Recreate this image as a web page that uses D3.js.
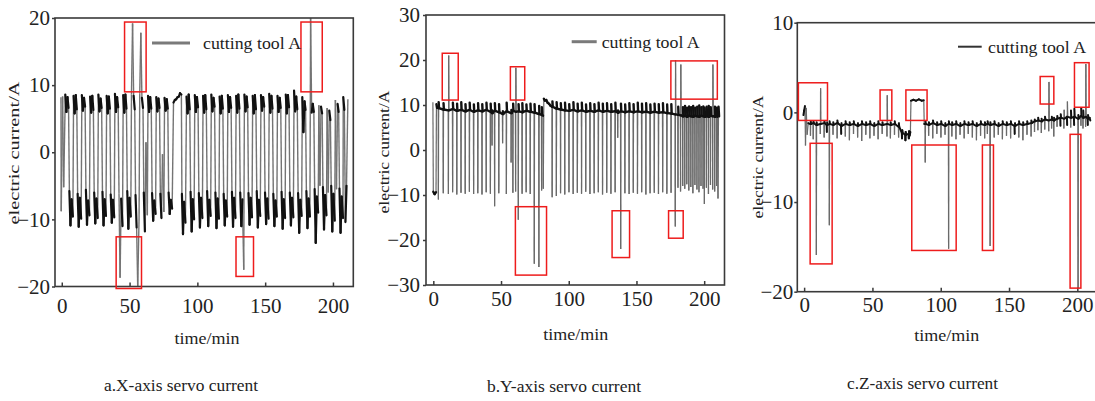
<!DOCTYPE html>
<html><head><meta charset="utf-8">
<script src="https://cdn.jsdelivr.net/npm/d3@7"></script>
<style>
body{margin:0;background:#fff;}
</style></head><body>
<svg id="chart" width="1095" height="401"></svg>
<script>
// ---------- shared labels / ticks ----------
const timeTicks = [0, 50, 100, 150, 200];
const yTicksX = [-20, -10, 0, 10, 20];
const yTicksY = [-30, -20, -10, 0, 10, 20, 30];
const yTicksZ = [-20, -10, 0, 10];
const captions = ["a.X-axis servo current", "b.Y-axis servo current", "c.Z-axis servo current"];
const legendLabel = "cutting tool A";
const xAxisTitle = "time/min";
const yAxisTitle = "electric current/A";

// ---------- X-axis servo current (cycle table: start time + 8 readings per cycle) ----------
const xCyclePhase = [0, 0.8, 1.6, 2.4, 3.0, 3.8, 4.6, 5.6];
const xCycleStart = [2.6, 8.7, 14.8, 20.9, 27.0, 33.1, 39.2, 45.3, 51.4, 57.5, 63.6, 69.7, 75.8,
  92.0, 98.1, 104.2, 110.3, 116.4, 122.5, 128.6, 134.7, 140.8, 146.9, 153.0, 159.1, 165.2, 171.3, 177.4, 183.5, 189.6, 195.7, 201.8];
const xCycleValues = [
  [8.6, 6.0, 8.2, 6.6, -5.8, -10.9, -7.0, -9.6],
  [8.4, 5.8, 8.5, 6.4, -6.2, -11.1, -6.8, -9.9],
  [8.5, 6.2, 8.1, 6.8, -5.6, -10.8, -7.2, -9.4],
  [8.3, 5.9, 8.4, 6.3, -6.0, -10.6, -6.9, -9.8],
  [8.6, 6.1, 8.0, 6.6, -5.9, -10.9, -7.0, -9.5],
  [8.4, 5.8, 8.3, 6.5, -6.3, -10.5, -7.1, -9.7],
  [8.7, 6.0, 8.2, 6.7, -6.1, -18.7, -6.9, -11.0],
  [8.5, 5.9, 8.6, 6.5, -5.8, -11.4, -6.8, -9.6],
  [8.6, 19.2, 8.4, 6.4, -6.4, -11.2, -20.0, -9.8],
  [8.8, 17.8, 8.1, 6.6, -6.0, -11.8, 1.5, -9.4],
  [8.4, 6.0, 8.2, 6.5, -6.1, -10.2, -7.2, -9.2],
  [8.2, 6.1, 8.0, 6.6, -6.2, -9.8, -0.3, -8.9],
  [8.1, 6.2, 7.9, 6.5, -6.0, -9.2, -7.1, -8.4],
  [8.3, 5.8, 8.6, 6.4, -5.9, -11.8, -7.0, -10.0],
  [8.5, 6.0, 8.2, 6.7, -6.1, -11.2, -6.8, -9.8],
  [8.4, 5.9, 8.5, 6.4, -5.8, -11.0, -7.1, -9.5],
  [8.6, 6.1, 8.1, 6.8, -6.0, -11.3, -6.9, -9.9],
  [8.3, 5.8, 8.4, 6.5, -6.2, -10.9, -7.2, -9.6],
  [8.5, 6.0, 8.2, 6.6, -5.9, -11.1, -6.8, -9.8],
  [8.4, 5.9, 8.6, 6.5, -6.0, -11.0, -7.0, -17.5],
  [8.6, 6.1, 8.3, 6.7, -6.1, -10.8, -6.8, -9.7],
  [8.4, 5.8, 8.5, 6.4, -5.8, -11.2, -7.1, -9.5],
  [8.5, 6.2, 8.2, 6.8, -6.0, -10.7, -6.9, -9.9],
  [8.7, 5.9, 8.4, 6.5, -6.2, -11.0, -7.2, -9.6],
  [8.4, 6.0, 8.1, 6.6, -5.9, -11.4, -7.0, -9.8],
  [8.6, 5.8, 8.5, 6.7, -6.0, -10.9, -6.8, -9.7],
  [9.2, 6.1, 8.3, 6.4, -6.1, -12.0, -7.1, -9.5],
  [8.2, 3.0, 7.6, 6.3, -5.8, -11.3, -6.9, -9.6],
  [20.0, 5.9, 7.2, 6.0, -5.5, -13.5, -6.6, -9.0],
  [7.0, -5.0, 6.8, 5.8, -5.2, -11.5, -6.4, -9.4],
  [6.6, -6.0, 6.2, 4.8, -5.0, -11.8, -6.2, -10.2],
  [7.8, -5.5, 7.2, 6.0, -5.4, -12.0, -6.6, -9.8]
];
const xExtraPoints = [
  [-0.6, 8.2], [-0.4, -8.8], [0.6, 8.3], [1.4, -5.2],
  [82.4, 7.4], [83.4, 7.8], [84.4, 7.9], [85.4, 8.2], [86.4, 8.3], [87.2, 8.8], [88.2, 8.6],
  [88.6, -6.2], [89.4, -12.2], [90.2, -7.4], [91.2, -10.5],
  [207.6, 8.2], [208.4, 6.3], [209.2, -10.4], [210.0, -5.0], [211.0, 7.9]
];
const xBoxes = [[46.3, 62.2, 9.0, 19.4], [176.4, 192.1, 9.0, 19.4], [40.1, 58.8, -20.3, -12.6], [128.5, 141.4, -18.5, -12.6]];

// ---------- Y-axis servo current (events: time, base level, spike low, spike high) ----------
const spikePhase = [0, 0.15, 0.35, 0.6];
const yEvents = [
  [3.6, 9.3, -11.0, 10.6], [7.2, 9.0, -9.6, 10.4], [11.0, 8.8, -9.8, 21.0], [14.1, 9.1, -9.4, 10.5],
  [17.2, 8.7, -9.9, 10.3], [20.3, 8.9, -9.5, 10.6], [23.4, 8.6, -9.7, 10.2], [26.5, 8.9, -9.3, 10.5],
  [29.6, 8.5, -9.8, 10.1], [32.7, 8.8, -9.6, 10.4], [35.8, 8.6, -9.9, 10.2], [38.9, 8.9, -9.4, 10.5],
  [42.0, 8.5, -9.7, 10.3], [43.2, 8.2, 1.0, 8.8], [45.1, 8.7, -12.5, 10.4], [48.2, 8.4, -9.6, 10.2],
  [51.0, 8.0, 1.5, 8.6], [53.8, 8.6, -9.8, 10.5], [57.3, 8.2, -2.8, 8.9], [58.6, 8.7, -9.5, 10.3],
  [60.6, 8.5, -9.2, 18.3], [62.6, 8.6, -15.5, 10.2], [65.4, 8.4, -9.7, 10.4], [68.4, 8.7, -9.4, 10.1],
  [71.4, 8.5, -9.8, 10.3], [74.4, 8.3, -25.3, 10.2], [77.8, 8.0, -26.0, 9.8], [79.8, 7.8, -9.0, 9.5],
  [87.6, 9.6, -10.5, 10.8], [90.7, 9.2, -10.2, 10.6], [93.8, 9.0, -9.6, 10.4], [96.9, 8.8, -9.9, 10.5],
  [100.0, 8.7, -9.4, 10.2], [103.1, 8.9, -9.8, 10.6], [106.2, 8.6, -9.5, 10.3], [109.3, 8.8, -9.7, 10.5],
  [112.4, 8.5, -9.3, 10.1], [115.5, 8.7, -9.8, 10.4], [118.6, 8.5, -9.6, 10.2], [121.7, 8.8, -9.4, 10.5],
  [124.8, 8.5, -9.9, 10.3], [127.9, 8.7, -9.5, 10.4], [131.0, 8.5, -9.7, 10.2], [134.1, 8.6, -9.4, 10.5],
  [136.0, 8.3, 2.7, 8.8], [138.2, 8.6, -22.0, 10.3], [141.3, 8.4, -9.6, 10.1], [144.4, 8.6, -9.8, 10.4],
  [147.5, 8.4, -9.5, 10.2], [150.6, 8.6, -9.7, 10.5], [153.7, 8.4, -9.4, 10.3], [156.8, 8.5, -9.9, 10.4],
  [159.9, 8.3, -9.6, 10.1], [163.0, 8.5, -9.5, 10.3], [166.1, 8.3, -9.8, 10.2], [169.2, 8.4, -9.4, 10.4],
  [172.3, 8.2, -9.7, 10.1], [175.4, 8.1, -9.5, 10.2], [178.5, 7.9, -17.0, 20.0], [180.5, 7.8, -8.4, 9.6],
  [182.4, 7.7, -9.2, 19.0], [184.0, 7.5, -8.0, 9.5], [185.5, 7.6, -8.6, 9.8], [187.0, 7.4, -7.6, 9.4],
  [188.5, 7.6, -9.0, 9.7], [190.0, 7.5, -8.2, 9.5], [191.5, 7.4, -9.6, 9.8], [193.0, 7.6, -7.8, 9.4],
  [194.5, 7.5, -8.8, 9.6], [196.0, 7.4, -9.4, 9.9], [197.5, 7.6, -8.0, 9.5], [199.0, 7.5, -8.6, 9.7],
  [200.0, 7.4, -12.0, 9.4], [201.5, 7.5, -8.4, 9.6], [203.0, 7.4, -9.8, 9.8], [204.5, 7.6, -7.8, 9.5],
  [206.1, 7.5, -8.8, 19.0], [207.6, 7.4, -9.2, 9.6], [209.0, 7.5, -8.0, 9.4]
];
const yExtraPoints = [
  [-0.3, 10.6], [0.0, -9.3], [1.0, -9.8], [2.0, -9.4], [2.3, 10.2], [2.8, 9.4],
  [81.0, 7.6], [81.2, -8.6], [81.6, 11.4], [82.4, 11.0], [83.4, 11.1], [84.4, 10.5], [85.4, 10.3], [86.4, 9.9],
  [209.8, 7.4], [210.2, -10.8], [210.6, 9.6], [211.0, 7.5]
];
const yBoxes = [[6.6, 18.4, 11.1, 21.5], [56.9, 67.5, 11.1, 18.5], [175.4, 209.7, 11.3, 19.8],
  [60.6, 83.6, -27.8, -12.6], [132.0, 144.9, -23.9, -13.5], [173.7, 184.5, -19.6, -13.5]];

// ---------- Z-axis servo current ----------
const zEvents = [
  [4.5, -1.3, -2.6, -1.0], [6.5, -1.2, -3.0, -1.0], [8.8, -1.4, -15.9, -1.1], [11.7, -1.3, -2.4, 2.7],
  [14.5, -1.2, -2.8, -1.0], [16.5, -1.4, -2.2, -1.1], [18.3, -1.3, -12.6, -1.0], [21.0, -1.4, -2.5, -1.1],
  [24.0, -1.2, -2.9, -0.9], [27.0, -1.5, -2.4, -1.2], [30.0, -1.3, -2.7, -1.0], [33.0, -1.4, -3.1, -1.1],
  [36.0, -1.3, -2.4, -1.0], [39.0, -1.5, -2.8, -1.2], [42.0, -1.3, -3.2, -1.0], [45.0, -1.4, -2.5, -1.1],
  [48.0, -1.3, -2.9, -1.0], [51.0, -1.5, -2.6, -1.2], [54.0, -1.3, -3.0, -1.0], [57.0, -1.4, -2.4, -1.1],
  [60.5, -1.3, -2.7, 1.9], [63.0, -1.4, -2.9, -1.1], [66.0, -1.3, -2.5, -1.0], [69.0, -1.6, -2.8, -1.2],
  [71.5, -2.3, -2.9, -2.0], [74.0, -2.5, -3.1, -2.2], [76.5, -2.4, -2.9, -2.1],
  [88.5, -1.3, -5.6, -1.0], [91.0, -1.4, -2.6, -1.1], [94.0, -1.2, -2.9, -0.9], [97.0, -1.4, -2.4, -1.1],
  [100.0, -1.3, -2.8, -1.0], [103.0, -1.5, -2.5, -1.2], [105.6, -1.3, -15.2, -1.0], [108.0, -1.4, -2.7, -1.1],
  [111.0, -1.3, -3.0, -1.0], [114.0, -1.5, -2.5, -1.2], [117.0, -1.3, -2.9, -1.0], [120.0, -1.4, -2.4, -1.1],
  [123.0, -1.3, -2.8, -1.0], [126.0, -1.5, -3.1, -1.2], [129.0, -1.3, -2.6, -1.0], [132.0, -1.4, -2.9, -1.1],
  [134.0, -1.3, -2.4, -1.0], [136.0, -1.4, -14.9, -1.1], [139.0, -1.3, -2.8, -1.0], [142.0, -1.5, -2.5, -1.2],
  [145.0, -1.3, -3.0, -1.0], [148.0, -1.4, -2.6, -1.1], [151.0, -1.3, -2.9, -1.0], [154.0, -1.5, -2.4, -1.2],
  [157.0, -1.3, -2.8, -1.0], [160.0, -1.4, -3.1, -1.1], [163.0, -1.3, -2.5, -1.0], [166.0, -1.2, -2.7, -0.9],
  [168.5, -1.0, -2.2, -0.8], [171.0, -0.9, -2.0, -0.6], [173.5, -1.0, -2.3, -0.7], [176.0, -0.8, -1.9, -0.5],
  [178.9, -0.9, -2.1, 3.4], [181.0, -0.8, -1.8, -0.5], [182.6, -0.9, -2.7, -0.6], [185.0, -0.7, -1.6, -0.4],
  [187.5, -0.6, -1.5, -0.2], [190.0, -0.7, -1.8, 0.3], [192.4, -0.5, -1.4, 1.2], [195.0, -0.6, -1.7, 0.2],
  [197.5, -0.5, -1.4, 0.4], [200.4, -0.7, -19.6, -0.3], [202.5, -0.4, -1.5, 0.5], [204.0, -0.6, -1.8, 0.2],
  [205.9, -0.5, -1.6, 5.4], [207.5, -0.7, -1.4, -0.3]
];
const zExtraPoints = [
  [-0.5, -0.3], [0.0, 0.2], [0.6, 0.7], [1.0, -3.7], [1.5, 0.5], [2.2, -2.5], [3.0, -1.2],
  [77.2, -2.6], [77.8, -2.2], [78.2, 1.3], [80.0, 1.4], [82.0, 1.3], [84.0, 1.45], [86.0, 1.3], [87.6, 1.35], [87.9, -1.3],
  [209.0, -0.6], [209.5, -0.9]
];
const zBoxes = [[-4.2, 17.1, -0.9, 3.3], [4.4, 20.5, -16.9, -3.45], [55.6, 64.2, -0.9, 2.5], [74.5, 90.0, -0.9, 2.5],
  [78.8, 111.3, -15.4, -3.64], [130.5, 138.6, -15.4, -3.64], [172.8, 182.8, 0.93, 4.0], [197.9, 208.6, 0.57, 5.54],
  [194.7, 202.6, -19.6, -2.45]];

// ---------- build point tables ----------
const byTime = (a, b) => a[0] - b[0];
const xSeries = xExtraPoints.concat(
  xCycleStart.flatMap((t0, i) => xCyclePhase.map((p, j) => [t0 + p, xCycleValues[i][j]]))).sort(byTime);
const eventPoints = ev => ev.flatMap(([t, base, low, high]) =>
  [[t + spikePhase[0], base], [t + spikePhase[1], low], [t + spikePhase[2], high], [t + spikePhase[3], base]]);
const ySeries = yExtraPoints.concat(eventPoints(yEvents)).sort(byTime);
const zSeries = zExtraPoints.concat(eventPoints(zEvents)).sort(byTime);

// ---------- layout ----------
const SERIF = "'Liberation Serif','Times New Roman',serif";
const panels = [
  {id: "a", series: xSeries, boxes: xBoxes, yTicks: yTicksX, xDom: [-5, 215], yDom: [-20, 20],
   left: 55, right: 353.3, top: 18, bottom: 286.5, jump: 8, darkW: 2.2, grayW: 1.4, grayC: "#747474",
   xPad: 11.5, yPad: 2, legend: {x1: 152, x2: 190, y: 43, tx: 203, c: "#7a7a7a", w: 3},
   ylab: {x: 14, y: 153, len: 143}, xlab: {x: 207, y: 338}, cap: {x: 181, y: 385, len: 154}},
  {id: "b", series: ySeries, boxes: yBoxes, yTicks: yTicksY, xDom: [-5.4, 215], yDom: [-30, 30],
   left: 426, right: 724.5, top: 15, bottom: 285, jump: 3, darkW: 2.4, grayW: 1.2, grayC: "#6a6a6a",
   xPad: 5.7, yPad: 3, legend: {x1: 571.7, x2: 596.7, y: 41.7, tx: 601.7, c: "#7a7a7a", w: 3},
   ylab: {x: 383.5, y: 152, len: 123}, xlab: {x: 575.7, y: 334}, cap: {x: 564, y: 386, len: 154}},
  {id: "c", series: zSeries, boxes: zBoxes, yTicks: yTicksZ, xDom: [-5, 215], yDom: [-20, 10],
   left: 797.3, right: 797.3 + 220 * 1.366, top: 22.7, bottom: 291.7, jump: 0.9, darkW: 2.0, grayW: 1.2, grayC: "#6a6a6a",
   xPad: 5.7, yPad: 1, legend: {x1: 958, x2: 981.7, y: 46.7, tx: 988, c: "#333", w: 2},
   ylab: {x: 757.5, y: 157, len: 123}, xlab: {x: 946.7, y: 335.5}, cap: {x: 922.5, y: 383, len: 151}}
];

const svg = d3.select("#chart");
const fmt = d => d < 0 ? "\u2212" + Math.abs(d) : String(d);
const serifText = sel => sel.style("font-family", SERIF).style("fill", "#222");

panels.forEach((P, k) => {
  const x = d3.scaleLinear().domain(P.xDom).range([P.left, P.right]);
  const y = d3.scaleLinear().domain(P.yDom).range([P.bottom, P.top]);
  const g = svg.append("g");

  g.append("clipPath").attr("id", "clip" + P.id).append("rect")
    .attr("x", P.left).attr("y", P.top).attr("width", P.right - P.left).attr("height", P.bottom - P.top);

  // series drawn as segments: large swings in thin gray, steady levels in black
  const segs = d3.pairs(P.series);
  const plot = g.append("g").attr("clip-path", `url(#clip${P.id})`);
  plot.selectAll("line.sw").data(segs.filter(([a, b]) => Math.abs(b[1] - a[1]) > P.jump)).join("line")
    .attr("x1", d => x(d[0][0])).attr("y1", d => y(d[0][1])).attr("x2", d => x(d[1][0])).attr("y2", d => y(d[1][1]))
    .attr("stroke", P.grayC).attr("stroke-width", P.grayW);
  plot.selectAll("line.lv").data(segs.filter(([a, b]) => Math.abs(b[1] - a[1]) <= P.jump)).join("line")
    .attr("x1", d => x(d[0][0])).attr("y1", d => y(d[0][1])).attr("x2", d => x(d[1][0])).attr("y2", d => y(d[1][1]))
    .attr("stroke", "#111").attr("stroke-width", P.darkW).attr("stroke-linecap", "round");

  // frame
  g.append("rect").attr("x", P.left).attr("y", P.top).attr("width", P.right - P.left).attr("height", P.bottom - P.top)
    .attr("fill", "none").attr("stroke", "#3a3a3a").attr("stroke-width", 1.6);

  // axes
  const ax = g.append("g").attr("transform", `translate(0,${P.bottom})`)
    .call(d3.axisBottom(x).tickValues(timeTicks).tickSize(-4).tickPadding(P.xPad).tickFormat(fmt));
  const ay = g.append("g").attr("transform", `translate(${P.left},0)`)
    .call(d3.axisLeft(y).tickValues(P.yTicks).tickSize(3).tickPadding(P.yPad).tickFormat(fmt));
  [ax, ay].forEach(a => {
    a.attr("font-family", null).attr("font-size", null);
    a.select(".domain").remove();
    a.selectAll(".tick line").attr("stroke", "#3a3a3a").attr("stroke-width", 1.5);
    a.selectAll(".tick text").style("font-size", "21px").call(serifText);
  });

  // red annotation boxes
  g.selectAll("rect.box").data(P.boxes).join("rect")
    .attr("x", d => x(d[0])).attr("width", d => x(d[1]) - x(d[0]))
    .attr("y", d => y(d[3])).attr("height", d => y(d[2]) - y(d[3]))
    .attr("fill", "none").attr("stroke", "#ee1c1c").attr("stroke-width", 1.5);

  // legend
  g.append("line").attr("x1", P.legend.x1).attr("x2", P.legend.x2).attr("y1", P.legend.y).attr("y2", P.legend.y)
    .attr("stroke", P.legend.c).attr("stroke-width", P.legend.w);
  g.append("text").attr("x", P.legend.tx).attr("y", P.legend.y).attr("dy", "0.35em")
    .style("font-size", "17px").attr("textLength", 98).attr("lengthAdjust", "spacingAndGlyphs")
    .call(serifText).text(legendLabel);

  // axis titles
  g.append("text").attr("transform", `translate(${P.ylab.x},${P.ylab.y}) rotate(-90)`)
    .attr("text-anchor", "middle").attr("dy", "0.35em").style("font-size", "15px")
    .attr("textLength", P.ylab.len).attr("lengthAdjust", "spacingAndGlyphs").call(serifText).text(yAxisTitle);
  g.append("text").attr("x", P.xlab.x).attr("y", P.xlab.y).attr("dy", "0.35em").attr("text-anchor", "middle")
    .style("font-size", "17px").attr("textLength", 65).attr("lengthAdjust", "spacingAndGlyphs")
    .call(serifText).text(xAxisTitle);

  // caption
  g.append("text").attr("x", P.cap.x).attr("y", P.cap.y).attr("dy", "0.35em").attr("text-anchor", "middle")
    .style("font-size", "16px").attr("textLength", P.cap.len).attr("lengthAdjust", "spacingAndGlyphs")
    .call(serifText).text(captions[k]);
});
</script></body></html>
